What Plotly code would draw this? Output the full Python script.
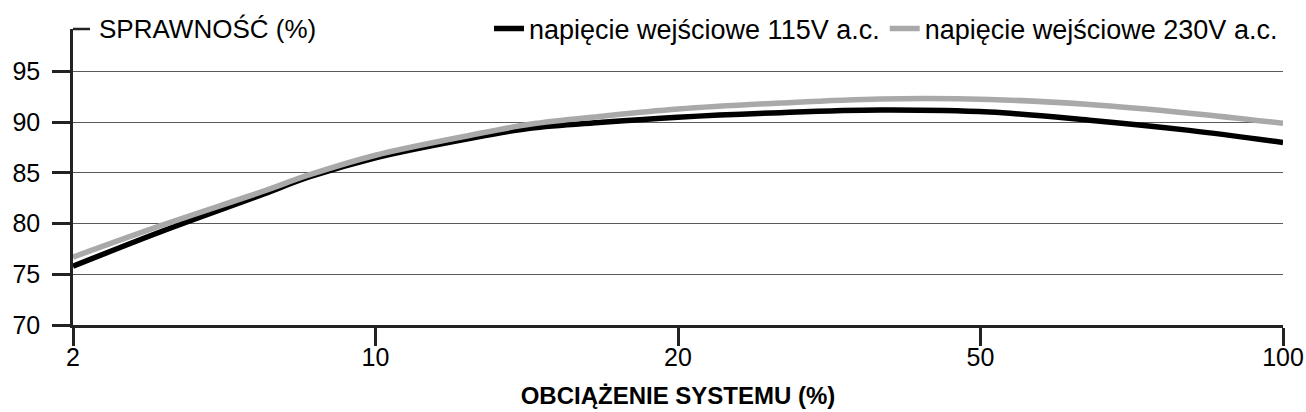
import plotly.graph_objects as go

# Load axis: categories equally spaced on the axis
load_ticks = ["2", "10", "20", "50", "100"]
tick_pos = [0, 1, 2, 3, 4]

# Position of each sample along the load axis (in tick-index units)
load_pos = [0, 0.29, 0.62, 0.78, 1.0, 1.31, 1.51, 1.75, 2.0, 2.34, 2.67, 3.03, 3.36, 3.69, 4.0]
eff_115 = [75.8, 79.2, 82.8, 84.6, 86.5, 88.4, 89.4, 90.0, 90.5, 90.95, 91.2, 91.0, 90.2, 89.2, 88.0]
eff_230 = [76.7, 79.8, 83.1, 84.8, 86.75, 88.7, 89.8, 90.6, 91.3, 91.9, 92.3, 92.25, 91.75, 90.9, 89.9]

y_ticks = [70, 75, 80, 85, 90, 95]
name_115 = "napięcie wejściowe 115V a.c."
name_230 = "napięcie wejściowe 230V a.c."
y_title = "SPRAWNOŚĆ (%)"
x_title = "OBCIĄŻENIE SYSTEMU (%)"

FONT = "Liberation Sans, Arial, sans-serif"

fig = go.Figure()
fig.add_trace(go.Scatter(x=load_pos, y=eff_115, mode="lines", name=name_115,
                         line=dict(color="#000000", width=5.5, shape="spline", smoothing=1.0)))
fig.add_trace(go.Scatter(x=load_pos, y=eff_230, mode="lines", name=name_230,
                         line=dict(color="#a9a9a9", width=5.5, shape="spline", smoothing=1.0)))

fig.update_layout(
    width=1306, height=412,
    margin=dict(l=73, r=23, t=29, b=87, autoexpand=False),
    paper_bgcolor="white", plot_bgcolor="white",
    font=dict(family=FONT, size=25, color="black"),
    showlegend=True,
    legend=dict(orientation="h", x=1.0, xanchor="right", y=1.0, yanchor="middle",
                font=dict(size=27), bgcolor="rgba(0,0,0,0)", traceorder="normal",
                itemwidth=30),
    xaxis=dict(range=[0, 4], tickmode="array", tickvals=tick_pos, ticktext=load_ticks,
               showgrid=False, zeroline=False, showline=True, linecolor="#222", linewidth=2.5,
               ticks="outside", ticklen=18, tickwidth=2.5, tickcolor="#222",
               tickfont=dict(size=25), automargin=False, ticklabelstandoff=-10,
               title=dict(text=f"<b>{x_title}</b>", font=dict(size=24), standoff=18)),
    yaxis=dict(range=[70, 99.2], tickmode="array", tickvals=y_ticks,
               showgrid=True, gridcolor="#5a5a5a", gridwidth=1.3, zeroline=False,
               showline=True, linecolor="#222", linewidth=2.5,
               ticks="outside", ticklen=18, tickwidth=2.5, tickcolor="#222",
               tickfont=dict(size=25), ticklabelstandoff=7, automargin=False),
    shapes=[dict(type="line", xref="paper", yref="paper", x0=0, x1=17/1210, y0=1, y1=1,
                 line=dict(color="#222", width=2.5))],
    annotations=[dict(text=y_title, xref="paper", yref="paper", x=24/1210, y=1.0,
                      xanchor="left", yanchor="middle", showarrow=False,
                      font=dict(size=26))],
)

fig.write_html("out.html")
